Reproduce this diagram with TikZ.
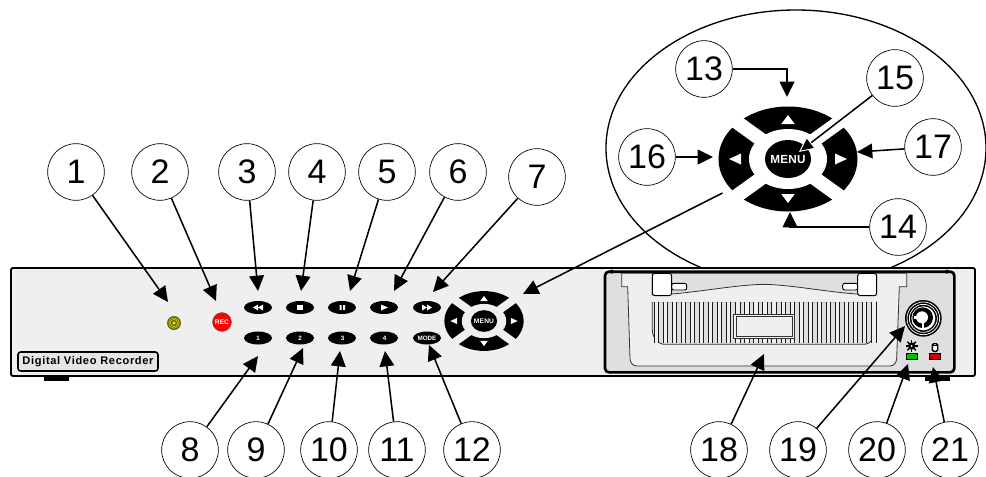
\documentclass[tikz,border=0pt]{standalone}
\usepackage{fontspec}
\setmainfont{Liberation Sans}
\usetikzlibrary{arrows.meta,calc}
\definecolor{panel}{HTML}{EFEFEF}
\definecolor{bay}{HTML}{DFDFDF}
\definecolor{ledolive}{HTML}{6B6B10}
\tikzset{
 num/.style={circle,draw=black,line width=0.5pt,fill=white,minimum size=42.5pt,inner sep=0pt,font=\fontsize{25.5}{25}\selectfont},
 conn/.style={line width=1.15pt,-{Triangle[length=11.5pt,width=11pt]}},
 btnlabel/.style={text=white,font=\bfseries\fontsize{4.7}{5}\selectfont,inner sep=0pt},
}
\newcommand{\rbtn}[2]{\fill[black] (#1,#2) ellipse [x radius=14,y radius=6.5];}
% nav pad: x, y, factor, background colour, menu font size
\newcommand{\navpad}[5]{%
 \begin{scope}[shift={(#1,#2)},x=#3*0.75pt,y=-#3*0.75pt]
  \fill[black] (0,0) ellipse [x radius=69.5,y radius=52.5];
  \draw[#4,line width=#3*10.5pt] (-75,-54) -- (75,54) (-75,54) -- (75,-54);
  \fill[#4] (0,0) ellipse [x radius=39,y radius=30];
  \fill[black] (0,0) ellipse [x radius=23,y radius=19];
  \fill[white] (0,-44) -- (-6.7,-35) -- (6.7,-35) -- cycle;
  \fill[white] (0,44) -- (-6.7,35) -- (6.7,35) -- cycle;
  \fill[white] (-59,0) -- (-47,-5.5) -- (-47,5.5) -- cycle;
  \fill[white] (59,0) -- (47,-5.5) -- (47,5.5) -- cycle;
  \node[inner sep=0pt,text=white,font=\bfseries\fontsize{#5}{9}\selectfont] at (0,0.5) {\addfontfeature{LetterSpace=2}MENU};
 \end{scope}}
\begin{document}
\begin{tikzpicture}[x=0.75pt,y=-0.75pt]
\useasboundingbox (0,0) rectangle (986,476);
\fill[white] (0,0) rectangle (986,476);
% zoom ellipse
\draw[black,line width=1pt] (796,148) ellipse [x radius=190,y radius=138];
% feet
\fill[black] (44,376) rectangle (69,381);
\fill[black] (925,376) rectangle (950,381);
% panel
\draw[black,line width=1.4pt,fill=panel,rounded corners=1.5pt] (11,268) rectangle (975,376);
% label
\draw[black,line width=1.2pt,fill=bay!60!panel,rounded corners=2pt] (18,352) rectangle (158,371);
\node[font=\bfseries\fontsize{8.3}{10}\selectfont,inner sep=0pt] (lbl) at (88,361.5) {\addfontfeature{LetterSpace=6}Digital Video Recorder};
% LED
\fill[ledolive] (174,323) circle (7);
\draw[yellow!90!black,line width=0.35pt] (174,323) circle (5.2) (174,323) circle (3.6);
\fill[yellow] (174,323) circle (1.7);
% REC
\draw[black!60,line width=0.3pt,fill=red] (222,322) circle (9.5);
\node[inner sep=0pt,text=white,font=\bfseries\fontsize{5}{5}\selectfont] at (222,322) {REC};
% buttons top row
\rbtn{258}{307.5}
\rbtn{300}{307.5}
\rbtn{342}{307.5}
\rbtn{384}{307.5}
\rbtn{427}{307.5}
\fill[white] (253,307.5) -- (258,304.5) -- (258,310.5) -- cycle (258,307.5) -- (263,304.5) -- (263,310.5) -- cycle;
\fill[white] (297,305) rectangle (303,310);
\fill[white] (339.5,305) rectangle (341.5,310) (343,305) rectangle (345,310);
\fill[white] (381,304.5) -- (388,307.5) -- (381,310.5) -- cycle;
\fill[white] (422,304.5) -- (427,307.5) -- (422,310.5) -- cycle (427,304.5) -- (432,307.5) -- (427,310.5) -- cycle;
% buttons bottom row
\rbtn{258}{338}
\rbtn{300}{338}
\rbtn{342}{338}
\rbtn{384}{338}
\rbtn{427}{338}
\node[btnlabel] at (258,338.5) {1};
\node[btnlabel] at (300,338.5) {2};
\node[btnlabel] at (342.5,338.5) {3};
\node[btnlabel] at (384.5,338.5) {4};
\node[btnlabel] at (427,338.5) {MODE};
% small and big pads
\navpad{484}{321}{0.57}{panel}{5}
\navpad{788}{159}{1}{white}{8.8}
% drive bay
\begin{scope}[shift={(590,255)},x=0.25pt,y=-0.25pt]
 \draw[black,line width=2pt,fill=bay,rounded corners=3pt] (45,50) rectangle (1093,352);
 \fill[black] (65,50) circle (6) (1071,50) circle (6);
 % tray
 \draw[black!80,line width=0.6pt,fill=panel] (95,55) -- (95,95) -- (113,95)
   -- (120,310) to[out=-90,in=180] (140,333) -- (900,333) to[out=0,in=-90] (920,310)
   -- (928,95) -- (950,95) -- (950,55) -- cycle;
 % grille
 \draw[black!80,line width=0.6pt,fill=bay] (187,140) -- (187,225) to[out=-90,in=180] (225,268)
   -- (820,268) to[out=0,in=-90] (858,225) -- (858,140) -- cycle;
 \foreach \i in {0,...,24} {
   \fill[panel] ({192+\i*27.2},140) rectangle ({205+\i*27.2},265);
   \draw[black!90,line width=0.65pt] ({192+\i*27.2},140) -- ({192+\i*27.2},265) ({205+\i*27.2},140) -- ({205+\i*27.2},265);
 }
 \fill[panel] (187,120) rectangle (858,140);
 \draw[black!80,line width=0.6pt,fill=panel] (430,177) rectangle (613,250);
 \draw[black!80,line width=0.6pt] (438,184) rectangle (606,243);
 % handle
 \draw[black!80,line width=0.6pt,fill=bay] (187,55) -- (187,120) .. controls (300,118) and (420,90) .. (522,88)
    .. controls (620,90) and (740,118) .. (858,120) -- (858,55) -- cycle;
 % clips
 \draw[black,line width=0.7pt,fill=white,rounded corners=1.5pt] (245,85) rectangle (290,105);
 \draw[black,line width=0.7pt,fill=white,rounded corners=1.5pt] (758,85) rectangle (803,105);
 \draw[black,line width=0.7pt,fill=white,rounded corners=2pt] (187,55) rectangle (245,122);
 \draw[black,line width=0.7pt,fill=white,rounded corners=2pt] (803,55) rectangle (860,122);
 % key lock
 \fill[black] (1000,190) circle (55);
 \draw[white,line width=0.55pt] (1000,190) circle (49) (1000,190) circle (42);
 \fill[white] (1000,190) circle (36);
 \fill[black] (998,188) circle (31);
 \fill[white] (996,187) circle (18);
 \fill[white] (972,183) rectangle (990,191);
 \fill[white] (997,200) rectangle (1002,224);
 % indicators
 \draw[black,line width=0.4pt,fill=green!75!black] (948,295) rectangle (983,312);
 \draw[black,line width=0.4pt,fill=red!80!black] (1017,295) rectangle (1052,312);
 \fill[black] (965,273) circle (11);
 \foreach \a in {0,45,...,315} \draw[black,line width=1pt] (965,273) -- ++(\a:18);
 \fill[white] (965,273) circle (3);
 \draw[black,line width=1pt,fill=white,rounded corners=1pt] (1027,266) rectangle (1043,289);
 \draw[black,line width=0.7pt] (1027,272) -- (1043,272);
\end{scope}
% number nodes
\node[num] (n1) at (76,172) {1};
\node[num] (n2) at (160,172) {2};
\node[num] (n3) at (247,172) {3};
\node[num] (n4) at (317,172) {4};
\node[num] (n5) at (387,172) {5};
\node[num] (n6) at (458,172) {6};
\node[num] (n7) at (537,177) {7};
\node[num] (n8) at (190,450) {8};
\node[num] (n9) at (256,450) {9};
\node[num] (n10) at (329,450) {10};
\node[num] (n11) at (397,450) {11};
\node[num] (n12) at (472,450) {12};
\node[num] (n13) at (704,69) {13};
\node[num] (n14) at (898,227) {14};
\node[num] (n15) at (895,78) {15};
\node[num] (n16) at (647,157) {16};
\node[num] (n17) at (933,147) {17};
\node[num] (n18) at (719,450) {18};
\node[num] (n19) at (798,450) {19};
\node[num] (n20) at (877,450) {20};
\node[num] (n21) at (950,450) {21};
% arrow ends
\foreach \n/\x/\y in {t1/168/302,t2/216/301,t3/258/291,t4/301/291,t5/350/291,t6/394/291,t7/433/292,
  t8/258/356,t9/303/348,t10/340/351,t11/385/351,t12/429/345,t13/787/97,t14/790/212,t15/799/152,
  t16/713/157,t17/857/152,t18/764/354,t19/905/326,t20/908/364,t21/933/367,pa/523/294,pb/722.5/193}
  {\coordinate (\n) at (\x,\y);}
\foreach \i in {1,...,12,16,17,18,19,20,21} \draw[conn] (n\i) -- (t\i);
\draw[conn] (n13.east) -| (t13);
\draw[conn] (n14.west) -| (t14);
\draw[line width=1.15pt,-{Triangle[length=11.5pt,width=11pt,color=white,fill=black,line width=0.7pt]}] (n15) -- (t15);
\draw[conn] (pb) -- (pa);
\end{tikzpicture}
\end{document}
